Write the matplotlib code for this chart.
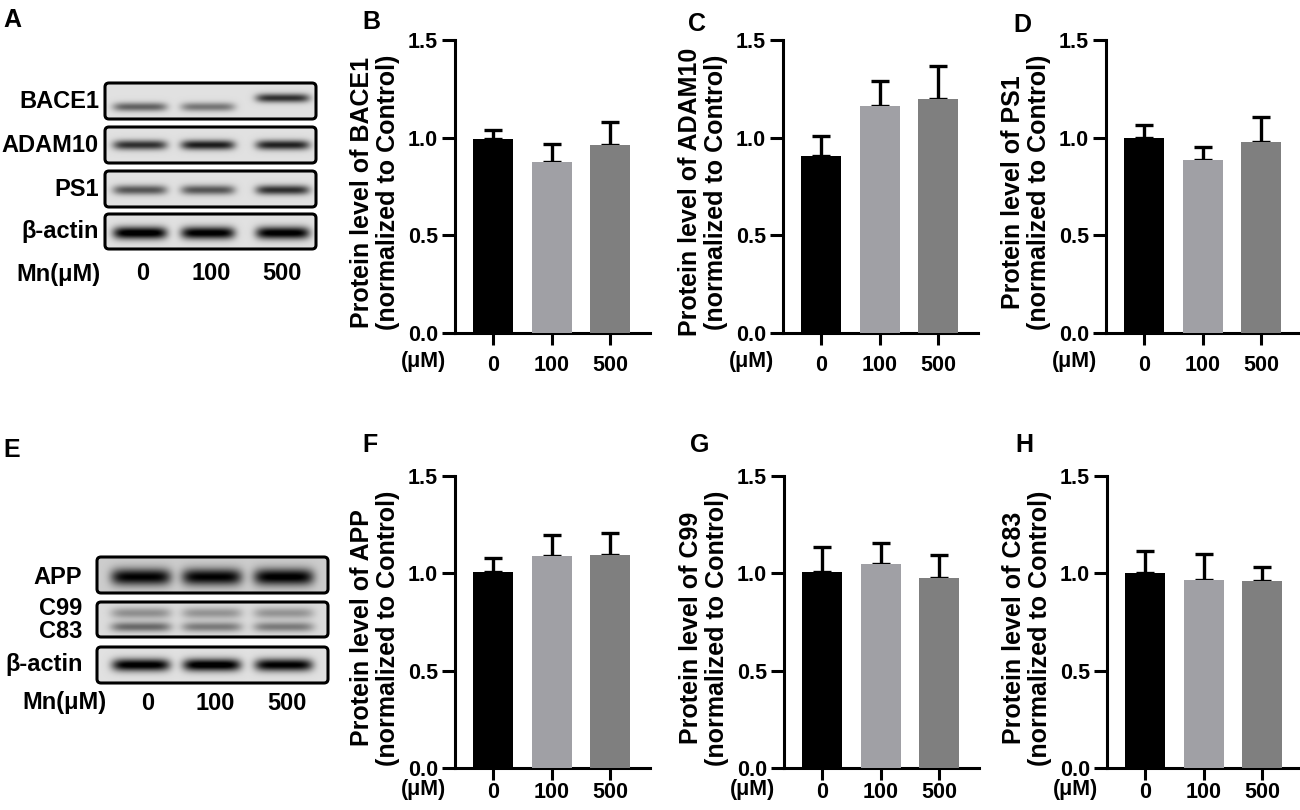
import numpy as np
import matplotlib
matplotlib.use("Agg")
import matplotlib.pyplot as plt
from matplotlib.patches import FancyBboxPatch

plt.rcParams['font.family'] = ['Liberation Sans', 'DejaVu Sans']
plt.rcParams['font.weight'] = 'bold'

# ---------------- data ----------------
doses = ["0", "100", "500"]
bar_colors = ["#000000", "#a0a0a5", "#7f7f7f"]

bace1_mean = [0.993, 0.875, 0.960]
bace1_err = [0.045, 0.095, 0.118]
adam10_mean = [0.904, 1.164, 1.200]
adam10_err = [0.104, 0.124, 0.168]
ps1_mean = [1.000, 0.886, 0.976]
ps1_err = [0.065, 0.067, 0.128]
app_mean = [1.008, 1.087, 1.092]
app_err = [0.070, 0.111, 0.113]
c99_mean = [1.008, 1.050, 0.975]
c99_err = [0.128, 0.108, 0.120]
c83_mean = [1.000, 0.968, 0.960]
c83_err = [0.115, 0.130, 0.074]

# western blot band darkness (per lane)
blot_a_rows = ["BACE1", "ADAM10", "PS1", "β-actin"]
blot_a_bands = [[0.50, 0.42, 0.70], [0.70, 0.78, 0.76], [0.55, 0.55, 0.70], [0.95, 0.92, 0.92]]
blot_e_rows = ["APP", "C99\nC83", "β-actin"]
blot_e_app = [0.80, 0.80, 0.82]
blot_e_c99 = [0.30, 0.28, 0.28]
blot_e_c83 = [0.45, 0.38, 0.38]
blot_e_actin = [0.92, 0.95, 0.90]

W, H = 1300, 810
fig = plt.figure(figsize=(13, 8.1), dpi=100)

LBL = 18      # axis label / letter font size
BLT = 17      # blot row label font size
TCK = 15.5    # tick label font size

# overlay axes in pixel coordinates
ov = fig.add_axes([0, 0, 1, 1], zorder=0)
ov.set_xlim(0, W)
ov.set_ylim(H, 0)
ov.axis('off')
ov.patch.set_visible(False)


def draw_box(x, y, w, h, lanes, bands, bg):
    cols, rows = int(w * 2), int(h * 2)
    X, Y = np.meshgrid(np.linspace(x, x + w, cols), np.linspace(y, y + h, rows))
    val = np.full(X.shape, bg)
    for yoff, sy, hw, dark, shifts in bands:
        for xc, d, sh in zip(lanes, dark, shifts):
            yc = y + yoff + sh
            val -= d * np.exp(-0.5 * ((Y - yc) / sy) ** 2) * np.exp(-((X - xc) / hw) ** 6)
    val = np.clip(val, 0, 1)
    im = ov.imshow(val, cmap='gray', vmin=0, vmax=1, extent=(x, x + w, y + h, y),
                   aspect='auto', interpolation='bilinear', zorder=1)
    patch = FancyBboxPatch((x, y), w, h, boxstyle="round,pad=0,rounding_size=4",
                           facecolor='none', edgecolor='black', lw=2.2, zorder=2)
    ov.add_patch(patch)
    im.set_clip_path(patch)


# ---- blot A ----
lanes_a = [140, 208, 283]
box_a_y = [83, 127, 171, 214]
box_a_h = [36, 36, 36, 35]
band_a_off = [24, 18, 19, 19]
band_a_sig = [3.2, 3.5, 3.5, 4.5]
band_a_shift = [[0, 0, -9], [0, 0, 0], [0, 0, 0], [0, 0, 0]]
for i, name in enumerate(blot_a_rows):
    draw_box(105, box_a_y[i], 211, box_a_h[i], lanes_a,
             [(band_a_off[i], band_a_sig[i], 27, blot_a_bands[i], band_a_shift[i])], 0.88)
    ov.text(99, box_a_y[i] + box_a_h[i] / 2, name, ha='right', va='center', fontsize=BLT)
ov.text(100, 274, "Mn(μM)", ha='right', va='center', fontsize=BLT)
for xc, d in zip([143, 211, 282], doses):
    ov.text(xc, 274, d, ha='center', va='center', fontsize=BLT)

# ---- blot E ----
lanes_e = [141, 212, 284]
draw_box(97, 557, 231, 36, lanes_e, [(20, 6.0, 30, blot_e_app, [0, 0, 0])], 0.80)
draw_box(97, 602, 231, 35, lanes_e, [(11, 4.0, 30, blot_e_c99, [0, 0, 0]),
                                     (25, 3.5, 30, blot_e_c83, [0, 0, 0])], 0.86)
draw_box(97, 647, 231, 36, lanes_e, [(18, 4.5, 29, blot_e_actin, [0, 0, 0])], 0.88)
ov.text(82, 577, blot_e_rows[0], ha='right', va='center', fontsize=BLT)
ov.text(82, 620, blot_e_rows[1], ha='right', va='center', fontsize=BLT, linespacing=0.95,
        multialignment='right')
ov.text(83, 665, blot_e_rows[2], ha='right', va='center', fontsize=BLT)
ov.text(107, 703, "Mn(μM)", ha='right', va='center', fontsize=BLT)
for xc, d in zip([148, 215, 287], doses):
    ov.text(xc, 703, d, ha='center', va='center', fontsize=BLT)

# panel letters
for lab, (lx, ly) in {"A": (3, 8), "B": (362, 10), "C": (688, 12), "D": (1013, 13),
                      "E": (3, 438), "F": (362, 433), "G": (690, 433), "H": (1015, 433)}.items():
    ov.text(lx, ly, lab, ha='left', va='top', fontsize=LBL)


def bar_panel(left_px, bottom_px, top_px, means, errs, protein, xpad):
    rect = [left_px / W, (H - bottom_px) / H, 195 / W, (bottom_px - top_px) / H]
    ax = fig.add_axes(rect, zorder=2)
    ax.patch.set_visible(False)
    x = np.arange(len(doses))
    ax.bar(x, means, width=0.68, color=bar_colors, zorder=3)
    ax.errorbar(x, means, yerr=[np.zeros(len(means)), errs], fmt='none', ecolor='black',
                elinewidth=2.4, capsize=6.2, capthick=2.4, zorder=2)
    ax.set_xlim(-0.65, 2.68)
    ax.set_ylim(0, 1.5)
    for s in ['top', 'right']:
        ax.spines[s].set_visible(False)
    for s in ['left', 'bottom']:
        ax.spines[s].set_linewidth(2.2)
    ax.set_yticks([0, 0.5, 1.0, 1.5])
    ax.set_yticklabels(["0.0", "0.5", "1.0", "1.5"])
    ax.set_xticks(x)
    ax.set_xticklabels(doses)
    ax.tick_params(axis='y', width=2.2, length=9.4, labelsize=TCK, pad=3)
    ax.tick_params(axis='x', width=2.2, length=8.6, labelsize=TCK, pad=xpad)
    for t in ax.get_xticklabels() + ax.get_yticklabels():
        t.set_fontweight('bold')
    ax.text(-0.41, 0.48, "Protein level of %s\n(normalized to Control)" % protein,
            rotation=90, ha='center', va='center', transform=ax.transAxes, fontsize=LBL,
            linespacing=1.15)
    ylab = (bottom_px - (bottom_px + 12 + xpad * 1.39 + 7)) / (bottom_px - top_px)
    ax.text(-0.16, ylab, "(μM)", ha='center', va='center', transform=ax.transAxes, fontsize=TCK)
    return ax


bar_panel(455, 333, 40, bace1_mean, bace1_err, "BACE1", 7)
bar_panel(783, 333, 40, adam10_mean, adam10_err, "ADAM10", 7)
bar_panel(1106, 333, 40, ps1_mean, ps1_err, "PS1", 7)
bar_panel(455, 768, 476, app_mean, app_err, "APP", 1.5)
bar_panel(784, 768, 476, c99_mean, c99_err, "C99", 1.5)
bar_panel(1107, 768, 476, c83_mean, c83_err, "C83", 1.5)

fig.savefig("out.png", dpi=100)
